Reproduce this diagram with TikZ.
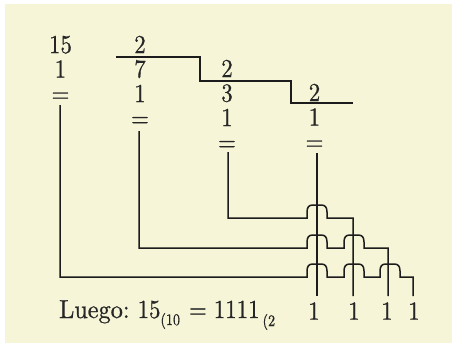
\documentclass[tikz,border=0pt]{standalone}
\usepackage{fontspec}
\newfontfamily\numfont{lmroman10-regular.otf}[FakeBold=0.7, FakeStretch=0.88]
\newcommand{\subsz}{\fontsize{16}{16}\selectfont}
\begin{document}
\definecolor{cream}{RGB}{246,245,216}
\definecolor{ink}{RGB}{28,28,28}
\definecolor{txt}{RGB}{38,38,38}
\begin{tikzpicture}[x=1pt,y=-1pt,
  col/.style={font=\numfont\fontsize{26}{24.5}\selectfont, text=txt,
              inner sep=0pt, align=center, anchor=north},
  num/.style={font=\numfont\fontsize{26}{26}\selectfont, text=txt, inner sep=0pt},
  wire/.style={draw=ink, line width=1.5pt},
  bumpat/.style args={#1/#2}{insert path={
     -- ({#1-10},#2) -- ({#1-10},{#2-6})
     .. controls ({#1-10},{#2-11}) and ({#1-8},{#2-13}) .. ({#1-4},{#2-13})
     -- ({#1+4},{#2-13})
     .. controls ({#1+8},{#2-13}) and ({#1+10},{#2-11}) .. ({#1+10},{#2-6})
     -- ({#1+10},#2)}}]
\useasboundingbox (0,0) rectangle (452,343);
\fill[cream] (5,4) rectangle (452,343);

% division scheme (one column of figures per node)
\node[col] (c1) at (60.5,35.6) {15\\1\\=};
\node[col] (c2) at (140,35.6) {2\\7\\1\\=};
\node[col] (c3) at (227,59.6) {2\\3\\1\\=};
\node[col] (c4) at (314.5,83.6) {2\\1\\=};

% bracket lines
\draw[wire] (116,57) -- (200,57) -- (200,81) -- (291,81) -- (291,103) -- (353,103);

% result digits
\node[num] (b1) at (314,311) {1};
\node[num] (b2) at (354,311) {1};
\node[num] (b3) at (387,311) {1};
\node[num] (b4) at (414,311) {1};

\node[anchor=base west, inner sep=0pt, text=txt,
      font=\numfont\fontsize{26}{26}\selectfont] (res) at (59,318)
  {\scalebox{1.06}[1]{Luego:}\hspace{8pt}15\raisebox{-7pt}{\subsz(10}\hspace{9pt}=\hspace{7pt}1111\hspace{3pt}\raisebox{-8pt}{\subsz(2}};

% connectors
\coordinate (s1) at (60,105);
\coordinate (s2) at (139,131);
\coordinate (s3) at (228,152);
\coordinate (s4) at (317,153);
\coordinate (t1) at (317,296);
\coordinate (t2) at (353,296);
\coordinate (t3) at (388,296);
\coordinate (t4) at (413,296);

\draw[wire] (s4) -- (t1);
\draw[wire] (s3) -- (228,218) [bumpat=317/218] -- (353,218) -- (t2);
\draw[wire] (s2) -- (139,248) [bumpat=317/248] [bumpat=354/248] -- (388,248) -- (t3);
\draw[wire] (s1) -- (60,277) [bumpat=317/277] [bumpat=354/277] [bumpat=390/277] -- (413,277) -- (t4);
\end{tikzpicture}
\end{document}
